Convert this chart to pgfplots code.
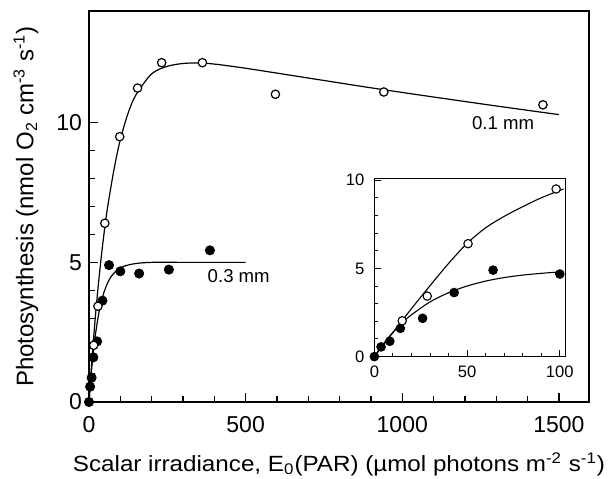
\documentclass[border=0pt]{standalone}
\usepackage{pgfplots}
\pgfplotsset{compat=1.18}
\usepackage{fontspec}
\setmainfont{Liberation Sans}
\newfontfamily\widefont[FakeStretch=1.1]{Liberation Sans}
\begin{document}
\begin{tikzpicture}
\useasboundingbox (-44.5pt,-38pt) rectangle (261.5pt,201pt);
\begin{axis}[name=main, at={(0,0)}, anchor=south west,
  scale only axis, width=250pt, height=195.5pt,
  xmin=0, xmax=1596, ymin=0, ymax=14,
  xtick={0,500,1000,1500}, minor x tick num=4,
  ytick={0,5,10}, minor y tick num=4,
  tick align=inside, xtick pos=bottom, ytick pos=left,
  major tick length=4.5pt, minor tick length=2.8pt,
  axis line style={line width=0.8pt},
  every tick/.style={line width=0.6pt, black},
  /pgf/number format/assume math mode=true,
  /pgf/number format/1000 sep={},
  tick label style={font=\fontsize{11.5}{13}\selectfont},
  xticklabel style={yshift=-3.5pt},
  xlabel={Scalar irradiance, E\textsubscript{0}(PAR) (µmol photons m\textsuperscript{-2} s\textsuperscript{-1})},
  ylabel={Photosynthesis (nmol O\textsubscript{2} cm\textsuperscript{-3} s\textsuperscript{-1})},
  xlabel style={font=\widefont\fontsize{11}{13}\selectfont, at={(axis description cs:0.5,-0.1586)}, anchor=center},
  ylabel style={font=\fontsize{12}{14}\selectfont, at={(axis description cs:-0.126,0.5)}, anchor=center},
  clip=false,
]
% 0.1 mm fitted curve
\addplot[black, line width=0.6pt, smooth, no marks] coordinates {
(0,0) (10,1.60) (20,3.01) (30,4.22) (40,5.28) (50,6.21) (60,7.02) (80,8.34)
(100,9.40) (125,10.35) (150,11.0) (200,11.75) (250,12.02) (300,12.12) (350,12.14)
(400,12.10) (500,11.95) (700,11.6) (900,11.25) (1100,10.92) (1300,10.60) (1500,10.29)};
% 0.3 mm fitted curve
\addplot[black, line width=0.6pt, smooth, no marks] coordinates {
(0,0) (5,0.74) (10,1.38) (15,1.92) (20,2.37) (30,3.10) (40,3.62) (50,4.00) (60,4.28)
(70,4.48) (80,4.62) (100,4.80) (120,4.89) (150,4.96) (200,5.0) (300,5.0) (500,5.0)};
% 0.3 mm data (filled)
\addplot[only marks, mark=*, mark size=2.3pt, black] coordinates {
(0,0) (3.6,0.55) (8.3,0.87) (14,1.6) (26,2.17) (43,3.63) (64,4.9) (100,4.68)
(160,4.6) (255,4.74) (386,5.43)};
% 0.1 mm data (open)
\addplot[only marks, mark=*, mark size=2.1pt, draw=black, fill=white, line width=0.6pt] coordinates {
(15,2.03) (28.5,3.43) (50.5,6.4) (98,9.5) (155,11.24) (232,12.15) (362,12.15)
(595,11.02) (941,11.1) (1449,10.64)};
\node[font=\fontsize{9.3}{11}\selectfont] at (axis cs:1322,10.0) {0.1 mm};
\node[font=\fontsize{9.3}{11}\selectfont] at (axis cs:478,4.5) {0.3 mm};
\end{axis}
\begin{axis}[at={(142.7pt,22.7pt)}, anchor=south west,
  scale only axis, width=95.5pt, height=89.1pt,
  xmin=0, xmax=103, ymin=0, ymax=10.1,
  xtick={0,50,100}, minor x tick num=4,
  ytick={0,5,10}, minor y tick num=4,
  tick align=inside, xtick pos=bottom, ytick pos=left,
  major tick length=3.5pt, minor tick length=2pt,
  axis line style={line width=0.7pt},
  every tick/.style={line width=0.5pt, black},
  /pgf/number format/assume math mode=true,
  tick label style={font=\fontsize{8.3}{10}\selectfont},
  xticklabel style={yshift=-1pt},
  yticklabel style={xshift=-1.5pt},
  axis background/.style={fill=white},
  clip=false,
]
\addplot[black, line width=0.55pt, smooth, no marks] coordinates {
(0,0) (10,1.36) (20,2.72) (30,4.02) (40,5.28) (50,6.42) (60,7.3) (70,7.95)
(80,8.5) (90,9.0) (100,9.42) (102,9.5)};
\addplot[black, line width=0.55pt, smooth, no marks] coordinates {
(0,0) (5,0.74) (10,1.38) (15,1.92) (20,2.37) (30,3.10) (40,3.62) (50,4.00)
(60,4.28) (70,4.48) (80,4.62) (90,4.72) (100,4.80)};
\addplot[only marks, mark=*, mark size=2.2pt, black] coordinates {
(0,0) (3.6,0.55) (8.3,0.87) (14,1.6) (26,2.17) (43,3.63) (64,4.9) (100,4.68)};
\addplot[only marks, mark=*, mark size=2.1pt, draw=black, fill=white, line width=0.55pt] coordinates {
(15,2.03) (28.5,3.43) (50.5,6.4) (98,9.5)};
\end{axis}
\end{tikzpicture}
\end{document}
